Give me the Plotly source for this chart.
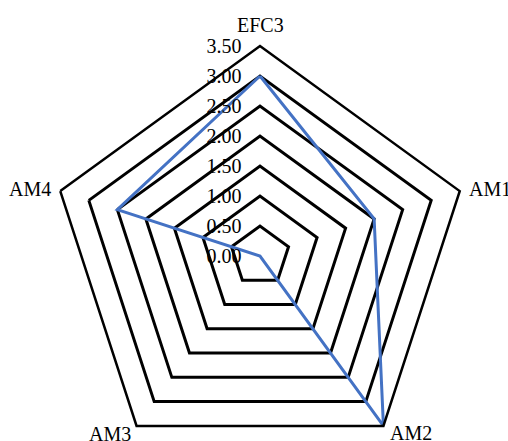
import plotly.graph_objects as go

categories = ["EFC3", "AM1", "AM2", "AM3", "AM4"]
values = [3.0, 2.0, 3.5, 0.0, 2.5]
tick_vals = [0, 0.5, 1.0, 1.5, 2.0, 2.5, 3.0, 3.5]
tick_text = ["0.00", "0.50", "1.00", "1.50", "2.00", "2.50", "3.00", "3.50"]

FONT = "Liberation Serif"
PAD = "\u00a0\u00a0\u00a0"

W, H = 508, 466
ML, MR, MT, MB = 50, 38, 46, 0
PW, PH = W - ML - MR, H - MT - MB

# category label anchor points (pixel), with alignment
label_pos = {
    "EFC3": (260, 25, "center", "middle"),
    "AM1": (467, 189, "left", "middle"),
    "AM4": (53, 189, "right", "middle"),
    "AM2": (388, 433, "left", "middle"),
    "AM3": (133, 434, "right", "middle"),
}

fig = go.Figure()
fig.add_trace(go.Scatterpolar(
    r=values + values[:1],
    theta=categories + categories[:1],
    mode="lines",
    line=dict(color="#4472C4", width=3),
    showlegend=False,
))

annotations = []
for cat in categories:
    px, py, xa, ya = label_pos[cat]
    annotations.append(dict(
        text=cat, xref="paper", yref="paper",
        x=(px - ML) / PW, y=(H - MB - py) / PH,
        xanchor=xa, yanchor=ya, showarrow=False,
        font=dict(family=FONT, size=20, color="black"),
    ))

fig.update_layout(
    width=W, height=H,
    margin=dict(l=ML, r=MR, t=MT, b=MB),
    paper_bgcolor="white",
    plot_bgcolor="white",
    font=dict(family=FONT, size=20, color="black"),
    annotations=annotations,
    polar=dict(
        bgcolor="white",
        gridshape="linear",
        angularaxis=dict(
            rotation=90, direction="clockwise",
            showgrid=False, showline=True, linecolor="black", linewidth=2.5,
            ticks="", showticklabels=False,
        ),
        radialaxis=dict(
            range=[0, 3.5], tickvals=tick_vals,
            ticktext=[t + PAD for t in tick_text],
            showline=False, ticks="", angle=90, side="counterclockwise",
            tickangle=90,
            gridcolor="black", gridwidth=2.5,
            tickfont=dict(family=FONT, size=20, color="black"),
        ),
    ),
)

fig.write_html(
    "out.html",
    config={"displayModeBar": False},
    post_script="document.body.style.margin='0';document.body.style.overflow='hidden';document.documentElement.style.overflow='hidden';",
)
